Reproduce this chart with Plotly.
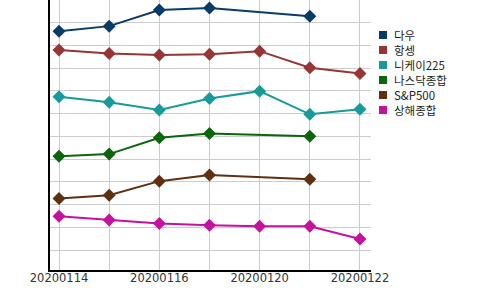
import plotly.graph_objects as go

dates = ["20200114", "20200115", "20200116", "20200117", "20200120", "20200121", "20200122"]
tick_labels = ["20200114", "", "20200116", "", "20200120", "", "20200122"]

names = ["다우", "항셍", "니케이225", "나스닥종합", "S&P500", "상해종합"]
colors = ["#0a3a68", "#953536", "#169a9a", "#0b650b", "#5e3010", "#c4119e"]

dow = [10.63, 10.85, 11.56, 11.65, None, 11.29, None]
hangseng = [9.80, 9.65, 9.58, 9.61, 9.75, 9.02, 8.77]
nikkei = [7.74, 7.50, 7.16, 7.67, 7.99, 6.97, 7.19]
nasdaq = [5.13, 5.22, 5.94, 6.13, None, 6.01, None]
sp500 = [3.27, 3.41, 4.03, 4.30, None, 4.11, None]
shanghai = [2.48, 2.32, 2.17, 2.09, 2.04, 2.04, 1.48]

series = [dow, hangseng, nikkei, nasdaq, sp500, shanghai]

W, H = 500, 290
ML, MR, MT, MB = 50, 129, 0, 20
PW, PH = W - ML - MR, H - MT - MB


def px_x(px):
    return (px - ML) / PW


def px_y(py):
    return (H - MB - py) / PH


fig = go.Figure()
for name, col, vals in zip(names, colors, series):
    fig.add_trace(go.Scatter(
        x=dates, y=vals, mode="lines+markers", name=name,
        connectgaps=True, showlegend=False,
        line=dict(color=col, width=2),
        marker=dict(symbol="diamond", size=10, color=col),
    ))

# Legend (drawn as swatches + labels to match the compact spacing)
shapes = []
annotations = []
for i, (name, col) in enumerate(zip(names, colors)):
    cy = 35 + 15 * i
    shapes.append(dict(
        type="rect", xref="paper", yref="paper",
        x0=px_x(379), x1=px_x(387), y0=px_y(cy + 4), y1=px_y(cy - 4),
        fillcolor=col, line=dict(width=0),
    ))
    annotations.append(dict(
        xref="paper", yref="paper", x=px_x(394), y=px_y(cy),
        xanchor="left", yanchor="middle", showarrow=False,
        borderpad=0, borderwidth=0,
        text=name, font=dict(family="Noto Sans CJK KR", size=11.5, color="#222222"),
    ))

fig.update_layout(
    width=W, height=H,
    margin=dict(l=ML, r=MR, t=MT, b=MB),
    paper_bgcolor="white", plot_bgcolor="white",
    font=dict(family="Noto Sans CJK KR", size=12, color="#333333"),
    showlegend=False,
    shapes=shapes,
    annotations=annotations,
    xaxis=dict(
        type="category", categoryorder="array", categoryarray=dates,
        range=[-0.18, 6.22],
        tickvals=dates, ticktext=tick_labels,
        showgrid=True, gridcolor="#cccccc", gridwidth=1,
        showline=True, linecolor="black", linewidth=1.5,
        ticks="", ticklabelstandoff=-4,
        tickfont=dict(family="DejaVu Sans", size=11.5, color="#333333"),
        zeroline=False,
    ),
    yaxis=dict(
        range=[0.12, 12.0], dtick=1, tick0=0,
        showgrid=True, gridcolor="#cccccc", gridwidth=1,
        showline=True, linecolor="black", linewidth=1.5,
        showticklabels=False, ticks="", zeroline=False,
    ),
)

fig.write_html("out.html")
